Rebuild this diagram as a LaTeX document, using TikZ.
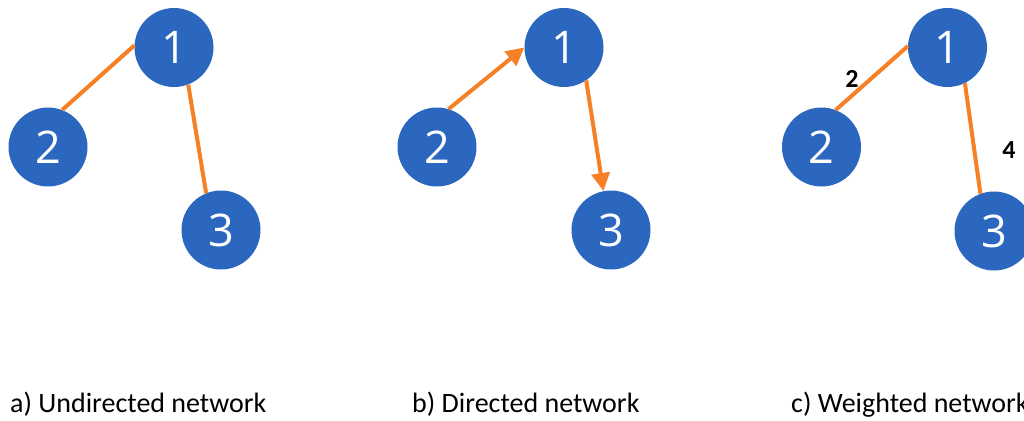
\documentclass[tikz,border=0pt]{standalone}
\usepackage{fontspec}
\setmainfont{Carlito}
\newfontfamily\digitfont{Open Sans}
\usetikzlibrary{arrows.meta}
\definecolor{nodeblue}{HTML}{2B67BF}
\definecolor{edgeorange}{HTML}{F58025}
\tikzset{
  vertex/.style={circle, fill=nodeblue, draw=none, minimum size=79pt, inner sep=0pt,
    text=white, font=\digitfont\fontsize{45}{45}\selectfont},
  link/.style={draw=edgeorange, line width=4pt},
  arc/.style={link, -{Triangle[length=18pt,width=18pt]}},
  weight/.style={font=\fontsize{26}{26}\selectfont\bfseries, text=black, inner sep=0pt},
  caption/.style={anchor=base west, inner sep=0pt, font=\fontsize{28}{28}\selectfont}
}
\begin{document}
\begin{tikzpicture}[x=1pt, y=-1pt]
  \useasboundingbox (0,0) rectangle (1024,420);
  \fill[white] (0,0) rectangle (1024,420);

  % a) undirected
  \node[vertex] (a1) at (174,47.5) {1};
  \node[vertex] (a2) at (48,147) {2};
  \node[vertex] (a3) at (221,230) {3};
  \draw[link] (a1.177) -- (a2.69);
  \draw[link] (a1.-69) -- (a3.112);
  \node[caption] (capa) at (10,412) {a) Undirected network};

  % b) directed
  \node[vertex] (b1) at (564,47.5) {1};
  \node[vertex] (b2) at (437,147) {2};
  \node[vertex] (b3) at (611,230) {3};
  \draw[arc] (b2.73) -- (b1.180);
  \draw[arc] (b1.-56) -- (b3.101);
  \node[caption] (capb) at (412,412) {b) Directed network};

  % c) weighted
  \node[vertex] (c1) at (947.5,47.5) {1};
  \node[vertex] (c2) at (821.5,147) {2};
  \node[vertex] (c3) at (994,231) {3};
  \draw[link] (c1.178) -- (c2.69);
  \draw[link] (c1.-64) -- (c3.110);
  \node[weight] (w12) at (852,79) {2};
  \node[weight] (w13) at (1009,150) {4};
  \node[caption] (capc) at (791,412) {c) Weighted network};
\end{tikzpicture}
\end{document}
